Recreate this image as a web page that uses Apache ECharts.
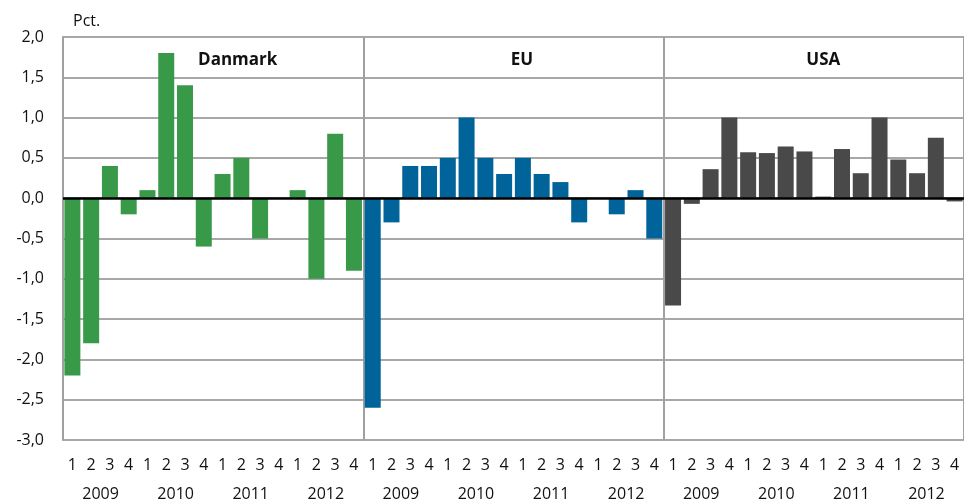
<!DOCTYPE html>
<html>
<head>
<meta charset="utf-8">
<script src="https://cdn.jsdelivr.net/npm/echarts@6/dist/echarts.min.js"></script>
<style>html,body{margin:0;padding:0;background:#fff;}#c{width:964px;height:503px;}</style>
</head>
<body>
<div id="c"></div>
<script>
var quarters = ['1','2','3','4'];
var years = ['2009','2010','2011','2012'];
var regions = ['Danmark','EU','USA'];
var yTicks = [2.0,1.5,1.0,0.5,0.0,-0.5,-1.0,-1.5,-2.0,-2.5,-3.0];
var danmark = [-2.2,-1.8,0.4,-0.2, 0.1,1.8,1.4,-0.6, 0.3,0.5,-0.5,0, 0.1,-1.0,0.8,-0.9];
var eu      = [-2.6,-0.3,0.4,0.4, 0.5,1.0,0.5,0.3, 0.5,0.3,0.2,-0.3, 0,-0.2,0.1,-0.5];
var usa     = [-1.33,-0.07,0.36,1.0, 0.57,0.56,0.64,0.58, 0.02,0.61,0.31,1.0, 0.48,0.31,0.75,-0.04];
var colors = ['#389a49','#00649a','#494949'];

var font = "'Open Sans', 'Noto Sans', sans-serif";
var cats = [], yearCats = [];
regions.forEach(function(r){
  years.forEach(function(y){
    yearCats.push(y);
    quarters.forEach(function(q){ cats.push(q); });
  });
});
var allSeries = [danmark, eu, usa];
var n = cats.length, per = quarters.length*years.length;
var series = allSeries.map(function(vals, si){
  var d = [];
  for (var i=0;i<n;i++){ d.push(null); }
  vals.forEach(function(v,j){ d[si*per+j]=v; });
  var s = {
    type:'bar', name: regions[si], data:d, xAxisIndex:0, barWidth:16, barGap:'-100%',
    itemStyle:{color:colors[si]}, z:2
  };
  if (si===0){
    s.markLine = {silent:true, symbol:'none', label:{show:false}, z:5,
      lineStyle:{color:'#000', width:2.5, type:'solid'}, data:[{yAxis:0}]};
  }
  return s;
});

var gridL = 63, gridT = 37, gridW = 904, gridH = 403;
var panelW = gridW/3;
var titleOffsets = [19, 2, 2];
var titles = regions.map(function(r,i){
  return {text:r, left: gridL + panelW*i + panelW/2 + titleOffsets[i], top:47, textAlign:'center',
    textStyle:{fontFamily:font, fontWeight:'bold', fontSize:17, color:'#111'}};
});
titles.push({text:'Pct.', left:68, top:8, textStyle:{fontFamily:font, fontWeight:'normal', fontSize:16, color:'#111'}});

var chart = echarts.init(document.getElementById('c'), null, {renderer:'canvas'});
chart.setOption({
  animation:false,
  title: titles,
  grid:{left:gridL, top:gridT, width:gridW, height:gridH, containLabel:false},
  xAxis:[{
    type:'category', data:cats, position:'bottom',
    axisLine:{show:false, onZero:false}, axisTick:{show:false},
    axisLabel:{interval:0, fontFamily:font, fontSize:16, color:'#111', margin:17},
    splitLine:{show:true, interval:function(idx){ return idx % per === 0; },
      lineStyle:{color:'#a0a0a0', width:2}}
  },{
    type:'category', data:yearCats, position:'bottom', offset:29,
    axisLine:{show:false}, axisTick:{show:false},
    axisLabel:{interval:0, fontFamily:font, fontSize:16, color:'#111', margin:17},
    splitLine:{show:false}
  }],
  yAxis:{
    type:'value', min:yTicks[yTicks.length-1], max:yTicks[0], interval:0.5,
    axisLine:{show:true, lineStyle:{color:'#a0a0a0', width:2}}, axisTick:{show:false},
    axisLabel:{fontFamily:font, fontSize:16, color:'#111', margin:19,
      formatter:function(v){ return v.toFixed(1).replace('.',','); }},
    splitLine:{show:true, lineStyle:{color:'#a8a8a8', width:2}}
  },
  series: series
});
</script>
</body>
</html>
